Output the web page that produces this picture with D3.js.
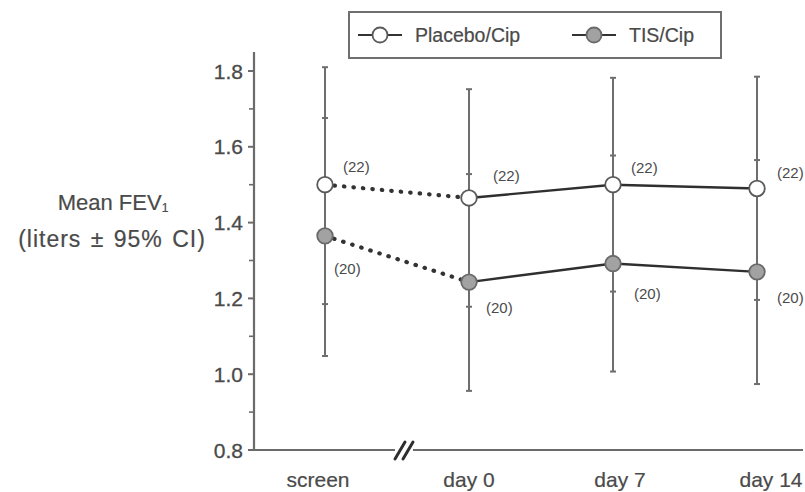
<!DOCTYPE html>
<html>
<head>
<meta charset="utf-8">
<script src="https://cdn.jsdelivr.net/npm/d3@7"></script>
<style>
  html, body { margin: 0; padding: 0; background: #fff; }
  svg { display: block; font-family: "Liberation Sans", Arial, sans-serif; }
</style>
</head>
<body>
<svg id="chart" width="805" height="492"></svg>
<script>
// Visits and mean FEV1 (litres) with 95% confidence limits
const visits = ["screen", "day 0", "day 7", "day 14"];
const placeboMean = [1.50, 1.465, 1.50, 1.49];
const placeboLow  = [1.185, 1.178, 1.218, 1.196];
const placeboHigh = [1.81, 1.752, 1.782, 1.785];
const tisMean = [1.365, 1.243, 1.292, 1.270];
const tisLow  = [1.048, 0.956, 1.007, 0.974];
const tisHigh = [1.676, 1.528, 1.577, 1.565];
const placeboN = [22, 22, 22, 22];
const tisN = [20, 20, 20, 20];
const yTicks = [0.8, 1.0, 1.2, 1.4, 1.6, 1.8];
const yMinorTicks = [0.9, 1.1, 1.3, 1.5, 1.7];
const seriesNames = ["Placebo/Cip", "TIS/Cip"];

const svg = d3.select("#chart");
const axisColor = "#6b6b6b";
const textColor = "#4a4a4a";

const x = d3.scalePoint().domain(visits).range([325, 757]);
const xLabel = d3.scalePoint().domain(visits).range([318, 771]);
const y = d3.scaleLinear().domain([0.8, 1.8]).range([450, 71]);
const axisLeft = 254, axisRight = 803, axisTop = y(1.85);

const series = [
  { name: seriesNames[0], mean: placeboMean, low: placeboLow, high: placeboHigh, n: placeboN,
    fill: "#ffffff", stroke: "#5a5a5a", labelDx: [18, 24, 18, 20], labelDy: [-13, -17, -12, -10] },
  { name: seriesNames[1], mean: tisMean, low: tisLow, high: tisHigh, n: tisN,
    fill: "#a2a2a2", stroke: "#6a6a6a", labelDx: [9, 17, 21, 20], labelDy: [38, 31, 35, 31] }
];

// Axes
const g = svg.append("g");
g.append("line").attr("x1", axisLeft).attr("x2", axisLeft)
  .attr("y1", axisTop).attr("y2", y(0.8) + 1)
  .attr("stroke", axisColor).attr("stroke-width", 2.2);
g.append("line").attr("x1", axisLeft).attr("x2", axisRight)
  .attr("y1", y(0.8)).attr("y2", y(0.8))
  .attr("stroke", axisColor).attr("stroke-width", 2.2);

g.selectAll("line.major").data(yTicks).join("line").attr("class", "major")
  .attr("x1", axisLeft - 6).attr("x2", axisLeft)
  .attr("y1", d => y(d)).attr("y2", d => y(d))
  .attr("stroke", axisColor).attr("stroke-width", 2);
g.selectAll("line.minor").data(yMinorTicks).join("line").attr("class", "minor")
  .attr("x1", axisLeft - 5).attr("x2", axisLeft)
  .attr("y1", d => y(d)).attr("y2", d => y(d))
  .attr("stroke", axisColor).attr("stroke-width", 1.6);
g.selectAll("text.ytick").data(yTicks).join("text").attr("class", "ytick")
  .attr("x", axisLeft - 11).attr("y", d => y(d))
  .attr("dy", "0.36em").attr("text-anchor", "end")
  .attr("font-size", 21).attr("fill", textColor)
  .attr("stroke", textColor).attr("stroke-width", 0.3)
  .text(d => d3.format(".1f")(d));

// Axis break between screen and day 0
const brk = svg.append("g").attr("transform", `translate(404, ${y(0.8)})`);
brk.append("rect").attr("x", -9).attr("y", -3).attr("width", 18).attr("height", 6).attr("fill", "#fff");
[-4, 4].forEach(o => {
  brk.append("line").attr("x1", o - 5).attr("y1", 9).attr("x2", o + 5).attr("y2", -8)
    .attr("stroke", "#2e2e2e").attr("stroke-width", 3).attr("stroke-linecap", "round");
});

// X labels
svg.selectAll("text.xlab").data(visits).join("text").attr("class", "xlab")
  .attr("x", d => xLabel(d)).attr("y", 487)
  .attr("text-anchor", "middle").attr("font-size", 21).attr("fill", textColor)
  .attr("stroke", textColor).attr("stroke-width", 0.2)
  .text(d => d);

// Y title
const title = svg.append("text").attr("text-anchor", "middle").attr("fill", textColor)
  .attr("stroke", textColor).attr("stroke-width", 0.2);
const t1 = title.append("tspan").attr("x", 113).attr("y", 210).attr("font-size", 22);
t1.append("tspan").text("Mean FEV");
t1.append("tspan").attr("font-size", 12).attr("dy", 2).text("1");
title.append("tspan").attr("x", 112).attr("y", 247).attr("font-size", 23)
  .attr("letter-spacing", 1).attr("word-spacing", 2).text("(liters \u00b1 95% CI)");

// Error bars (both groups share the visit position)
series.forEach(s => {
  const eb = svg.append("g");
  visits.forEach((v, i) => {
    eb.append("line").attr("x1", x(v)).attr("x2", x(v))
      .attr("y1", y(s.low[i])).attr("y2", y(s.high[i]))
      .attr("stroke", "#6e6e6e").attr("stroke-width", 2);
    [s.low[i], s.high[i]].forEach(b => {
      eb.append("line").attr("x1", x(v) - 3).attr("x2", x(v) + 3)
        .attr("y1", y(b)).attr("y2", y(b))
        .attr("stroke", "#6e6e6e").attr("stroke-width", 2);
    });
  });
});

// Connecting lines: dotted across the break, solid afterwards
series.forEach(s => {
  const pts = visits.map((v, i) => [x(v), y(s.mean[i])]);
  svg.append("path").attr("d", d3.line()(pts.slice(0, 2)))
    .attr("fill", "none").attr("stroke", "#333").attr("stroke-width", 4.2)
    .attr("stroke-dasharray", "0.5,9").attr("stroke-linecap", "round");
  svg.append("path").attr("d", d3.line()(pts.slice(1)))
    .attr("fill", "none").attr("stroke", "#2f2f2f").attr("stroke-width", 2.4);
});

// Markers and group sizes
series.forEach(s => {
  svg.append("g").selectAll("circle").data(visits).join("circle")
    .attr("cx", d => x(d)).attr("cy", (d, i) => y(s.mean[i])).attr("r", 7.8)
    .attr("fill", s.fill).attr("stroke", s.stroke).attr("stroke-width", 1.8);
  svg.append("g").selectAll("text").data(visits).join("text")
    .attr("x", (d, i) => x(d) + s.labelDx[i]).attr("y", (d, i) => y(s.mean[i]) + s.labelDy[i])
    .attr("font-size", 15).attr("fill", textColor)
    .text((d, i) => `(${s.n[i]})`);
});

// Legend
const lg = svg.append("g");
lg.append("rect").attr("x", 349).attr("y", 12).attr("width", 372).attr("height", 46)
  .attr("fill", "#fff").attr("stroke", "#6f6f6f").attr("stroke-width", 2);
const legendX = [358, 572];
series.forEach((s, k) => {
  const lx = legendX[k];
  lg.append("line").attr("x1", lx).attr("x2", lx + 44).attr("y1", 35).attr("y2", 35)
    .attr("stroke", "#333").attr("stroke-width", 1.8);
  lg.append("circle").attr("cx", lx + 22).attr("cy", 35).attr("r", 7.5)
    .attr("fill", s.fill).attr("stroke", s.stroke).attr("stroke-width", 1.8);
  lg.append("text").attr("x", lx + 57).attr("y", 35).attr("dy", "0.36em")
    .attr("font-size", 19.5).attr("fill", textColor)
    .attr("stroke", textColor).attr("stroke-width", 0.2).text(s.name);
});
</script>
</body>
</html>
